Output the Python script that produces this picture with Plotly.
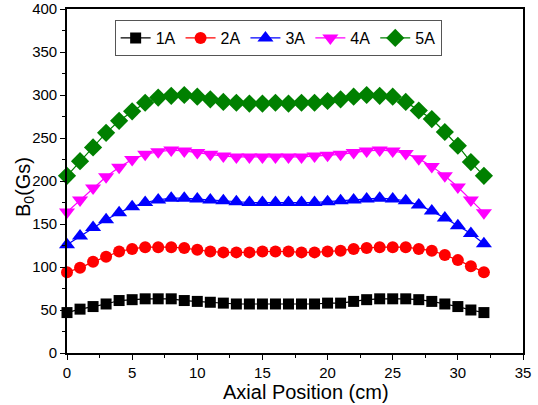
import plotly.graph_objects as go

# Axial position along the coil (cm)
position = list(range(0, 33))

# Axial magnetic field B0 (Gs) for each coil current
b_1a = [47, 51, 54, 57, 61, 62, 63, 63, 63, 61, 60, 59, 58, 57, 57, 57, 57,
        57, 57, 57, 58, 58, 60, 62, 63, 63, 63, 62, 60, 57, 54, 50, 47]
b_2a = [94, 99, 106, 112, 118, 121, 123, 123, 123, 122, 120, 118, 117, 117, 117, 118, 118,
        118, 117, 117, 118, 119, 121, 122, 123, 123, 123, 121, 119, 114, 108, 101, 94]
b_3a = [126, 136, 146, 155, 163, 170, 175, 178, 180, 180, 179, 178, 177, 176, 175, 175, 175,
        175, 175, 175, 176, 177, 178, 179, 180, 179, 177, 172, 165, 157, 148, 139, 127]
b_4a = [164, 178, 192, 205, 216, 225, 231, 234, 236, 235, 233, 231, 229, 228, 228, 228, 228,
        228, 228, 229, 230, 231, 233, 235, 236, 235, 232, 226, 217, 206, 193, 178, 163]
b_5a = [206, 223, 239, 256, 270, 281, 291, 297, 299, 300, 298, 295, 292, 291, 290, 290, 291,
        290, 291, 291, 293, 295, 298, 300, 299, 298, 292, 282, 272, 257, 241, 222, 206]

series = [
    ("1A", b_1a, "#000000", "square", 11),
    ("2A", b_2a, "#FF0000", "circle", 12),
    ("3A", b_3a, "#0000FF", "triangle-up", 14),
    ("4A", b_4a, "#FF00FF", "triangle-down", 14),
    ("5A", b_5a, "#008000", "diamond", 14),
]

FONT = "Liberation Sans, Arial"

fig = go.Figure()
for name, values, color, symbol, size in series:
    fig.add_trace(go.Scatter(
        x=position, y=values, name=name, mode="lines+markers",
        line=dict(color=color, width=1.2),
        marker=dict(symbol=symbol, size=size, color=color, line=dict(width=0)),
        cliponaxis=False,
    ))

axis_common = dict(
    showline=True, linecolor="black", linewidth=1.6, mirror=True,
    ticks="outside", ticklen=5, tickwidth=1.2, tickcolor="black",
    showgrid=False, zeroline=False, automargin=False,
    tickfont=dict(family=FONT, size=15, color="black"),
)

fig.update_xaxes(
    range=[0, 35], dtick=5, tick0=0,
    minor=dict(ticks="outside", ticklen=3, dtick=2.5, tickcolor="black", showgrid=False),
    **axis_common,
)
fig.update_yaxes(
    range=[0, 400], dtick=50, tick0=0,
    minor=dict(ticks="outside", ticklen=3, dtick=25, tickcolor="black", showgrid=False),
    **axis_common,
)

# Axis titles
fig.add_annotation(
    text="Axial Position (cm)", xref="paper", yref="paper",
    x=0.524, y=-0.1483, xanchor="center", yanchor="bottom", showarrow=False,
    font=dict(family=FONT, size=20, color="black"), borderpad=0,
)
fig.add_annotation(
    text="B<sub>0</sub>(Gs)", xref="paper", yref="paper",
    x=-0.0921, y=0.4826, xanchor="center", yanchor="middle", showarrow=False,
    textangle=-90, font=dict(family=FONT, size=20, color="black"),
)

fig.update_layout(
    width=538, height=405,
    margin=dict(l=67, r=15, t=9, b=52),
    paper_bgcolor="white", plot_bgcolor="white",
    font=dict(family=FONT, color="black"),
    legend=dict(
        orientation="h", x=0.1045, y=0.968, xanchor="left", yanchor="top",
        bgcolor="white", bordercolor="#555555", borderwidth=1,
        font=dict(size=16, color="black"), itemwidth=30,
        tracegroupgap=0,
    ),
)

fig.write_html("out.html")
